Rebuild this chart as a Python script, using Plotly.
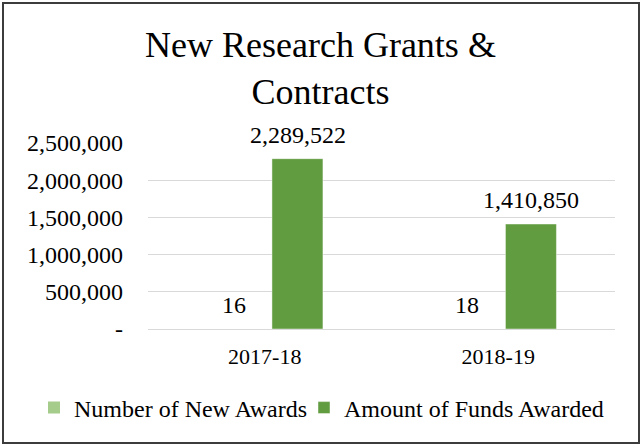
import plotly.graph_objects as go

years = ["2017-18", "2018-19"]
new_awards = [16, 18]
funds_awarded = [2289522, 1410850]
y_ticks = [0, 500000, 1000000, 1500000, 2000000, 2500000]
y_tick_text = ["-", "500,000", "1,000,000", "1,500,000", "2,000,000", "2,500,000"]

W, H = 641, 445
L, R, T, B = 148, 26, 143, 116
pw, ph = W - L - R, H - T - B

font = "Liberation Serif"
light_green = "#A6CC8C"
dark_green = "#629C40"

fig = go.Figure()
fig.add_trace(go.Bar(
    x=years, y=new_awards, name="Number of New Awards",
    marker=dict(color=light_green, line=dict(width=0)),
    legend="legend", showlegend=True,
))
fig.add_trace(go.Bar(
    x=years, y=funds_awarded, name="Amount of Funds Awarded",
    marker=dict(color=dark_green, line=dict(color="rgba(255,255,255,0.45)", width=1)),
    legend="legend2", showlegend=True,
))

# data labels sit a bit above the bar ends, like excel's outside-end labels
annotations = []
for vals, shift in [(new_awards, -31), (funds_awarded, 33)]:
    for yr, v in zip(years, vals):
        annotations.append(dict(
            x=yr, y=v, xref="x", yref="y", text=f"{v:,}", showarrow=False,
            xshift=shift, yshift=9, yanchor="bottom",
            font=dict(family=font, size=24, color="#000000"),
        ))


def px(x):
    return (x - L) / pw


def py(y):
    return (H - B - y) / ph


annotations.append(dict(
    text="New Research Grants &<br>Contracts", showarrow=False,
    xref="paper", yref="paper", x=px(W / 2), y=py(69),
    xanchor="center", yanchor="middle",
    font=dict(family=font, size=36, color="#000000"),
))

legend_style = dict(
    orientation="h", xref="container", yref="container", xanchor="left",
    yanchor="middle", y=1 - 408 / H, bgcolor="rgba(0,0,0,0)",
    font=dict(family=font, size=24, color="#000000"),
)

fig.update_layout(
    width=W, height=H,
    margin=dict(l=L, r=R, t=T, b=B, autoexpand=False),
    paper_bgcolor="white", plot_bgcolor="white",
    font=dict(family=font, color="#000000"),
    barmode="group", bargap=0.44, bargroupgap=0.22,
    showlegend=True,
    legend=dict(legend_style, x=34 / W),
    legend2=dict(legend_style, x=304 / W),
    annotations=annotations,
    shapes=[dict(
        type="rect", xref="paper", yref="paper",
        x0=px(3), x1=px(639), y0=py(443), y1=py(3),
        line=dict(color="#3C3C3C", width=2), fillcolor="rgba(0,0,0,0)",
    )],
)
fig.update_yaxes(
    range=[0, 2500000], tickvals=y_ticks, ticktext=y_tick_text,
    showgrid=True, gridcolor="#D9D9D9", gridwidth=1,
    zeroline=True, zerolinecolor="#D9D9D9", zerolinewidth=1,
    showline=False, ticklabelstandoff=24,
    tickfont=dict(family=font, size=24, color="#000000"),
)
fig.update_xaxes(
    showgrid=False, showline=False, ticklabelstandoff=12,
    tickfont=dict(family=font, size=22, color="#000000"),
)

fig.write_html(
    "out.html",
    config={"displayModeBar": False},
    post_script="document.body.style.margin = '0px';",
)
